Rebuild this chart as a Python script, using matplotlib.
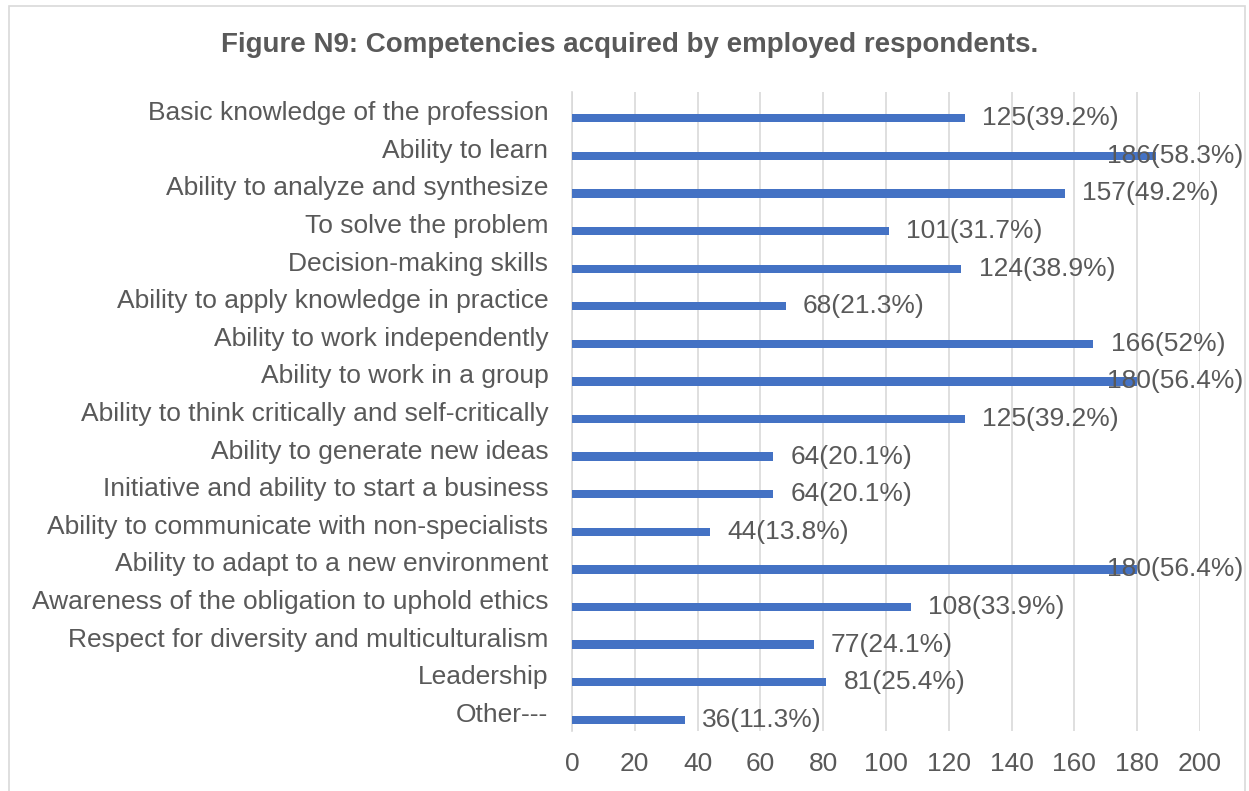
import matplotlib.pyplot as plt
from matplotlib.patches import Rectangle

plt.rcParams['font.family'] = ['Liberation Sans', 'DejaVu Sans']

categories = [
    "Basic knowledge of the profession",
    "Ability to learn",
    "Ability to analyze and synthesize",
    "To solve the problem",
    "Decision-making skills",
    "Ability to apply knowledge in practice",
    "Ability to work independently",
    "Ability to work in a group",
    "Ability to think critically and self-critically",
    "Ability to generate new ideas",
    "Initiative and ability to start a business",
    "Ability to communicate with non-specialists",
    "Ability to adapt to a new environment",
    "Awareness of the obligation to uphold ethics",
    "Respect for diversity and multiculturalism",
    "Leadership",
    "Other---",
]
counts = [125, 186, 157, 101, 124, 68, 166, 180, 125, 64, 64, 44, 180, 108, 77, 81, 36]
percents = ["39.2", "58.3", "49.2", "31.7", "38.9", "21.3", "52", "56.4", "39.2",
            "20.1", "20.1", "13.8", "56.4", "33.9", "24.1", "25.4", "11.3"]
xticks = list(range(0, 201, 20))

text_col = '#595959'
grid_col = '#d9d9d9'
bar_col = '#4472c4'

fig = plt.figure(figsize=(12.49, 7.91), dpi=100)
fig.patches.append(Rectangle((9 / 1249, -0.01), (1245 - 9) / 1249, 1 - 6 / 791 + 0.01,
                             transform=fig.transFigure, fill=False,
                             edgecolor=grid_col, linewidth=1.2))

ax = fig.add_axes([572 / 1249, 1 - 731 / 791, (1200 - 572) / 1249, (731 - 92) / 791])

ypos = list(range(len(categories)))
bar_y = [y + 0.2 for y in ypos]
ax.barh(bar_y, counts, height=0.22, color=bar_col, zorder=3)

ax.set_ylim(len(categories) - 0.5, -0.5)
ax.set_xlim(0, 200)
ax.set_yticks(ypos)
ax.set_yticklabels(categories, fontsize=19, color=text_col)
ax.set_xticks(xticks)
ax.set_xticklabels([str(t) for t in xticks], fontsize=19, color=text_col)
ax.tick_params(length=0)
ax.tick_params(axis='x', pad=15)
ax.tick_params(axis='y', pad=17)
ax.grid(axis='x', color=grid_col, linewidth=1.2, zorder=0)
for s in ['top', 'right', 'bottom']:
    ax.spines[s].set_visible(False)
ax.spines['left'].set_color(grid_col)
ax.spines['left'].set_linewidth(1.2)

fig.text(630 / 1249, 1 - 45 / 791, "Figure N9: Competencies acquired by employed respondents.",
         ha='center', va='center', fontsize=20, fontweight='bold', color=text_col)

# data labels, clamped to the chart's right edge like Excel does
renderer = fig.canvas.get_renderer()
right_px = 1243
labels = []
for y, c, p in zip(bar_y, counts, percents):
    t = ax.text(c + 5.5, y, f"{c}({p}%)", va='center', ha='left', fontsize=19,
                color=text_col, clip_on=False, zorder=4)
    labels.append(t)
for t in labels:
    bb = t.get_window_extent(renderer)
    if bb.x1 > right_px:
        xd = ax.transData.inverted().transform((right_px, bb.y0))[0]
        t.set_x(xd)
        t.set_ha('right')

fig.savefig('out.png', dpi=100)
